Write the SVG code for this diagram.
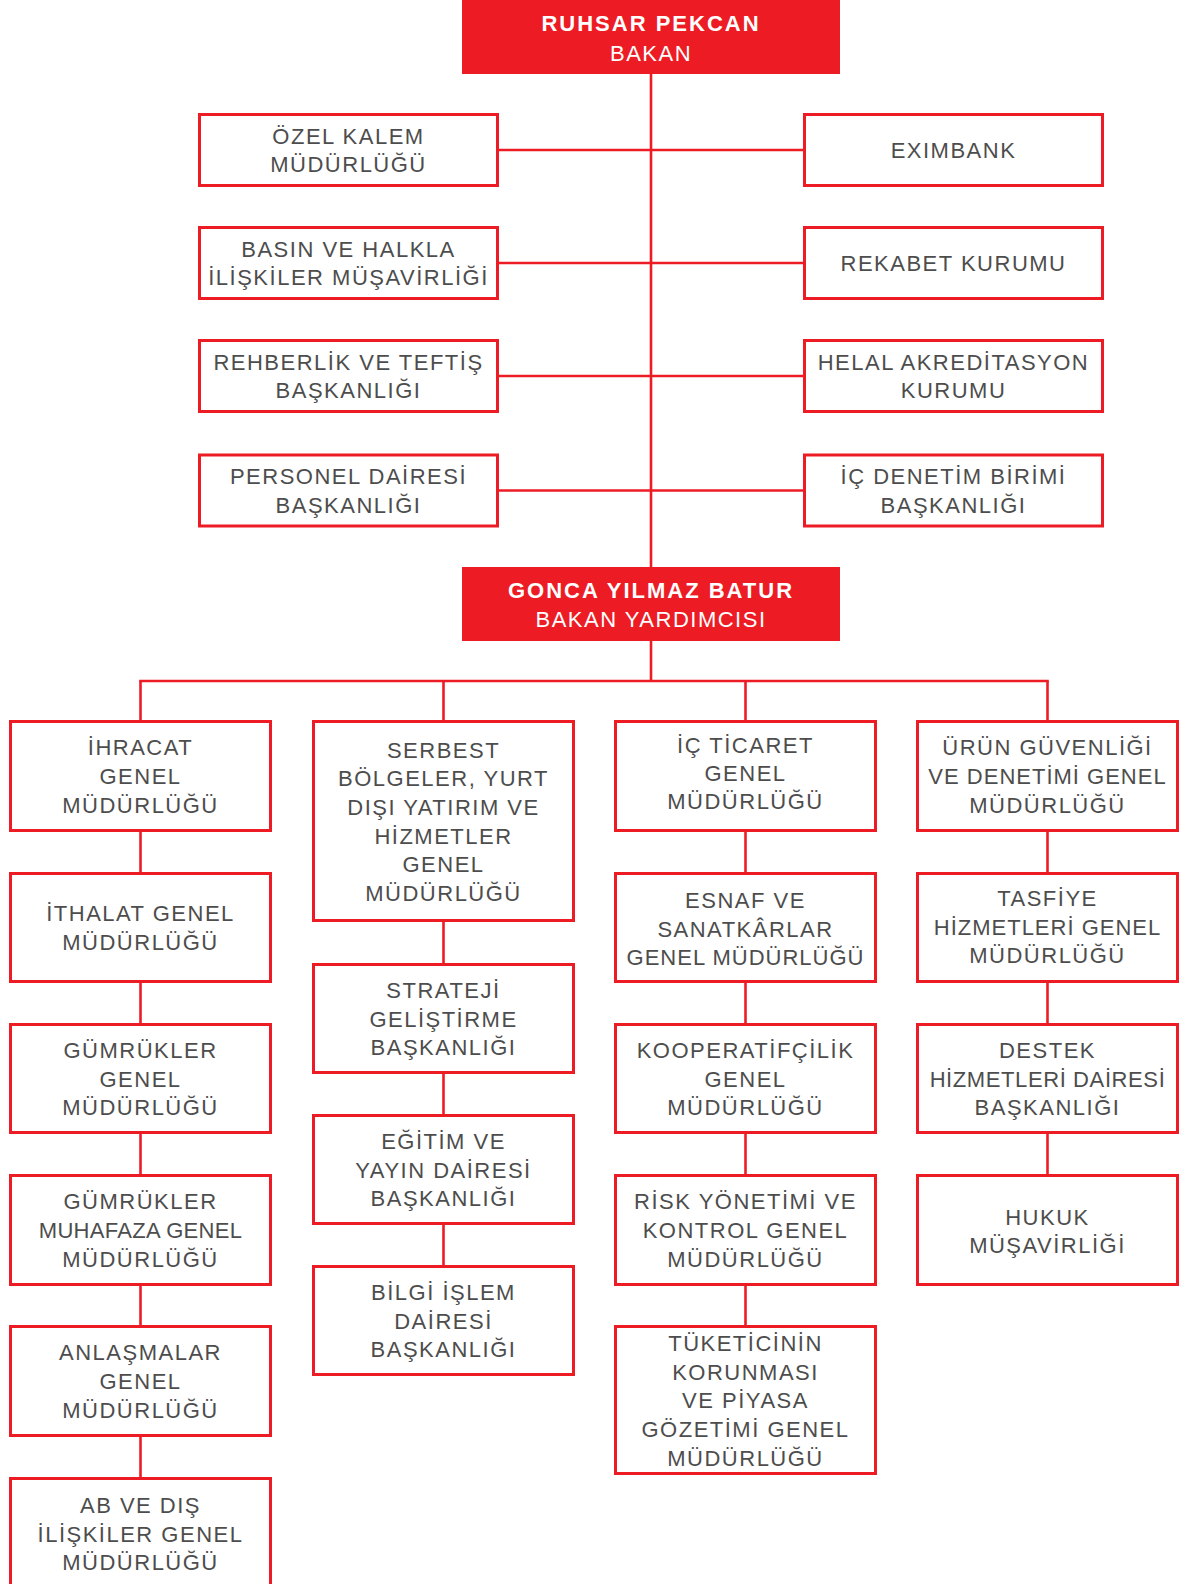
<svg xmlns="http://www.w3.org/2000/svg" width="1186" height="1584" viewBox="0 0 1186 1584">
<style>
.box{fill:#fff;stroke:#ED1C24;stroke-width:3}
.head{fill:#ED1C24}
.t{font-family:"Liberation Sans",Arial,sans-serif;font-size:22px;fill:#4d4d4d;text-anchor:middle;letter-spacing:1.5px}
.w{fill:#fff}
.b{font-weight:bold;letter-spacing:2px}
.conn line{stroke:#ED1C24;stroke-width:2.6;fill:none}
</style>
<rect width="1186" height="1584" fill="#fff"/>
<g id="connectors" class="conn">
<line x1="651" y1="74" x2="651" y2="567"/>
<line x1="499" y1="150" x2="803" y2="150"/>
<line x1="499" y1="263" x2="803" y2="263"/>
<line x1="499" y1="376" x2="803" y2="376"/>
<line x1="499" y1="490.5" x2="803" y2="490.5"/>
<line x1="651" y1="641" x2="651" y2="681"/>
<line x1="139.2" y1="681" x2="1048.8" y2="681"/>
<line x1="140.5" y1="681" x2="140.5" y2="720"/>
<line x1="443.5" y1="681" x2="443.5" y2="720"/>
<line x1="745.5" y1="681" x2="745.5" y2="720"/>
<line x1="1047.5" y1="681" x2="1047.5" y2="720"/>
<line x1="140.5" y1="832" x2="140.5" y2="872"/>
<line x1="140.5" y1="983" x2="140.5" y2="1023"/>
<line x1="140.5" y1="1134" x2="140.5" y2="1174"/>
<line x1="140.5" y1="1286" x2="140.5" y2="1325"/>
<line x1="140.5" y1="1437" x2="140.5" y2="1477"/>
<line x1="443.5" y1="922" x2="443.5" y2="963"/>
<line x1="443.5" y1="1074" x2="443.5" y2="1114"/>
<line x1="443.5" y1="1225" x2="443.5" y2="1265"/>
<line x1="745.5" y1="832" x2="745.5" y2="872"/>
<line x1="745.5" y1="983" x2="745.5" y2="1023"/>
<line x1="745.5" y1="1134" x2="745.5" y2="1174"/>
<line x1="745.5" y1="1286" x2="745.5" y2="1325"/>
<line x1="1047.5" y1="832" x2="1047.5" y2="872"/>
<line x1="1047.5" y1="983" x2="1047.5" y2="1023"/>
<line x1="1047.5" y1="1134" x2="1047.5" y2="1174"/>
</g>

<g id="bakan">
<rect class="head" x="462" y="0" width="378" height="74"/>
<text class="t w b" x="651" y="31">RUHSAR PEKCAN</text>
<text class="t w" x="651" y="61">BAKAN</text>
</g>
<g id="ozel-kalem">
<rect class="box" x="199.5" y="114.5" width="298" height="71"/>
<text class="t" x="348.5" y="143.5">ÖZEL KALEM</text>
<text class="t" x="348.5" y="172">MÜDÜRLÜĞÜ</text>
</g>
<g id="basin">
<rect class="box" x="199.5" y="227.5" width="298" height="71"/>
<text class="t" x="348.5" y="256.5">BASIN VE HALKLA</text>
<text class="t" x="348.5" y="285">İLİŞKİLER MÜŞAVİRLİĞİ</text>
</g>
<g id="rehberlik">
<rect class="box" x="199.5" y="340.5" width="298" height="71"/>
<text class="t" x="348.5" y="369.5">REHBERLİK VE TEFTİŞ</text>
<text class="t" x="348.5" y="398">BAŞKANLIĞI</text>
</g>
<g id="personel">
<rect class="box" x="199.5" y="455" width="298" height="71"/>
<text class="t" x="348.5" y="484">PERSONEL DAİRESİ</text>
<text class="t" x="348.5" y="512.5">BAŞKANLIĞI</text>
</g>
<g id="eximbank">
<rect class="box" x="804.5" y="114.5" width="298" height="71"/>
<text class="t" x="953.5" y="158">EXIMBANK</text>
</g>
<g id="rekabet">
<rect class="box" x="804.5" y="227.5" width="298" height="71"/>
<text class="t" x="953.5" y="271">REKABET KURUMU</text>
</g>
<g id="helal">
<rect class="box" x="804.5" y="340.5" width="298" height="71"/>
<text class="t" x="953.5" y="369.5">HELAL AKREDİTASYON</text>
<text class="t" x="953.5" y="398">KURUMU</text>
</g>
<g id="ic-denetim">
<rect class="box" x="804.5" y="455" width="298" height="71"/>
<text class="t" x="953.5" y="484">İÇ DENETİM BİRİMİ</text>
<text class="t" x="953.5" y="512.5">BAŞKANLIĞI</text>
</g>
<g id="bakan-yardimcisi">
<rect class="head" x="462" y="567" width="378" height="74"/>
<text class="t w b" x="651" y="598">GONCA YILMAZ BATUR</text>
<text class="t w" x="651" y="627">BAKAN YARDIMCISI</text>
</g>

<g id="ihracat">
<rect class="box" x="10.5" y="721.5" width="260" height="109"/>
<text class="t" x="140.5" y="755">İHRACAT</text>
<text class="t" x="140.5" y="784">GENEL</text>
<text class="t" x="140.5" y="813">MÜDÜRLÜĞÜ</text>
</g>
<g id="ithalat">
<rect class="box" x="10.5" y="873.5" width="260" height="108"/>
<text class="t" x="140.5" y="921">İTHALAT GENEL</text>
<text class="t" x="140.5" y="950">MÜDÜRLÜĞÜ</text>
</g>
<g id="gumrukler">
<rect class="box" x="10.5" y="1024.5" width="260" height="108"/>
<text class="t" x="140.5" y="1058">GÜMRÜKLER</text>
<text class="t" x="140.5" y="1086.5">GENEL</text>
<text class="t" x="140.5" y="1115">MÜDÜRLÜĞÜ</text>
</g>
<g id="gumrukler-muhafaza">
<rect class="box" x="10.5" y="1175.5" width="260" height="109"/>
<text class="t" x="140.5" y="1209">GÜMRÜKLER</text>
<text class="t" x="140.5" y="1238" style="letter-spacing:0.3px">MUHAFAZA GENEL</text>
<text class="t" x="140.5" y="1266.5">MÜDÜRLÜĞÜ</text>
</g>
<g id="anlasmalar">
<rect class="box" x="10.5" y="1326.5" width="260" height="109"/>
<text class="t" x="140.5" y="1360">ANLAŞMALAR</text>
<text class="t" x="140.5" y="1389">GENEL</text>
<text class="t" x="140.5" y="1417.5">MÜDÜRLÜĞÜ</text>
</g>
<g id="ab-dis-iliskiler">
<rect class="box" x="10.5" y="1478.5" width="260" height="120"/>
<text class="t" x="140.5" y="1513">AB VE DIŞ</text>
<text class="t" x="140.5" y="1541.5">İLİŞKİLER GENEL</text>
<text class="t" x="140.5" y="1570">MÜDÜRLÜĞÜ</text>
</g>

<g id="serbest-bolgeler">
<rect class="box" x="313.5" y="721.5" width="260" height="199"/>
<text class="t" x="443.5" y="757.5">SERBEST</text>
<text class="t" x="443.5" y="786">BÖLGELER, YURT</text>
<text class="t" x="443.5" y="814.5">DIŞI YATIRIM VE</text>
<text class="t" x="443.5" y="843.5">HİZMETLER</text>
<text class="t" x="443.5" y="872">GENEL</text>
<text class="t" x="443.5" y="900.5">MÜDÜRLÜĞÜ</text>
</g>
<g id="strateji">
<rect class="box" x="313.5" y="964.5" width="260" height="108"/>
<text class="t" x="443.5" y="998">STRATEJİ</text>
<text class="t" x="443.5" y="1026.5">GELİŞTİRME</text>
<text class="t" x="443.5" y="1055">BAŞKANLIĞI</text>
</g>
<g id="egitim">
<rect class="box" x="313.5" y="1115.5" width="260" height="108"/>
<text class="t" x="443.5" y="1149">EĞİTİM VE</text>
<text class="t" x="443.5" y="1177.5">YAYIN DAİRESİ</text>
<text class="t" x="443.5" y="1206">BAŞKANLIĞI</text>
</g>
<g id="bilgi-islem">
<rect class="box" x="313.5" y="1266.5" width="260" height="108"/>
<text class="t" x="443.5" y="1300">BİLGİ İŞLEM</text>
<text class="t" x="443.5" y="1328.5">DAİRESİ</text>
<text class="t" x="443.5" y="1357">BAŞKANLIĞI</text>
</g>

<g id="ic-ticaret">
<rect class="box" x="615.5" y="721.5" width="260" height="109"/>
<text class="t" x="745.5" y="752.5">İÇ TİCARET</text>
<text class="t" x="745.5" y="781">GENEL</text>
<text class="t" x="745.5" y="809">MÜDÜRLÜĞÜ</text>
</g>
<g id="esnaf">
<rect class="box" x="615.5" y="873.5" width="260" height="108"/>
<text class="t" x="745.5" y="908">ESNAF VE</text>
<text class="t" x="745.5" y="936.5">SANATKÂRLAR</text>
<text class="t" x="745.5" y="964.5" style="letter-spacing:1px">GENEL MÜDÜRLÜĞÜ</text>
</g>
<g id="kooperatifcilik">
<rect class="box" x="615.5" y="1024.5" width="260" height="108"/>
<text class="t" x="745.5" y="1058">KOOPERATİFÇİLİK</text>
<text class="t" x="745.5" y="1086.5">GENEL</text>
<text class="t" x="745.5" y="1115">MÜDÜRLÜĞÜ</text>
</g>
<g id="risk-yonetimi">
<rect class="box" x="615.5" y="1175.5" width="260" height="109"/>
<text class="t" x="745.5" y="1209">RİSK YÖNETİMİ VE</text>
<text class="t" x="745.5" y="1238">KONTROL GENEL</text>
<text class="t" x="745.5" y="1266.5">MÜDÜRLÜĞÜ</text>
</g>
<g id="tuketicinin">
<rect class="box" x="615.5" y="1326.5" width="260" height="147"/>
<text class="t" x="745.5" y="1351">TÜKETİCİNİN</text>
<text class="t" x="745.5" y="1379.5">KORUNMASI</text>
<text class="t" x="745.5" y="1408">VE PİYASA</text>
<text class="t" x="745.5" y="1437">GÖZETİMİ GENEL</text>
<text class="t" x="745.5" y="1465.5">MÜDÜRLÜĞÜ</text>
</g>

<g id="urun-guvenligi">
<rect class="box" x="917.5" y="721.5" width="260" height="109"/>
<text class="t" x="1047.5" y="755">ÜRÜN GÜVENLİĞİ</text>
<text class="t" x="1047.5" y="784" style="letter-spacing:1px">VE DENETİMİ GENEL</text>
<text class="t" x="1047.5" y="813">MÜDÜRLÜĞÜ</text>
</g>
<g id="tasfiye">
<rect class="box" x="917.5" y="873.5" width="260" height="108"/>
<text class="t" x="1047.5" y="906">TASFİYE</text>
<text class="t" x="1047.5" y="935" style="letter-spacing:1px">HİZMETLERİ GENEL</text>
<text class="t" x="1047.5" y="962.5">MÜDÜRLÜĞÜ</text>
</g>
<g id="destek">
<rect class="box" x="917.5" y="1024.5" width="260" height="108"/>
<text class="t" x="1047.5" y="1058">DESTEK</text>
<text class="t" x="1047.5" y="1086.5" style="letter-spacing:0.6px">HİZMETLERİ DAİRESİ</text>
<text class="t" x="1047.5" y="1115">BAŞKANLIĞI</text>
</g>
<g id="hukuk">
<rect class="box" x="917.5" y="1175.5" width="260" height="109"/>
<text class="t" x="1047.5" y="1225">HUKUK</text>
<text class="t" x="1047.5" y="1252.5">MÜŞAVİRLİĞİ</text>
</g>
</svg>
